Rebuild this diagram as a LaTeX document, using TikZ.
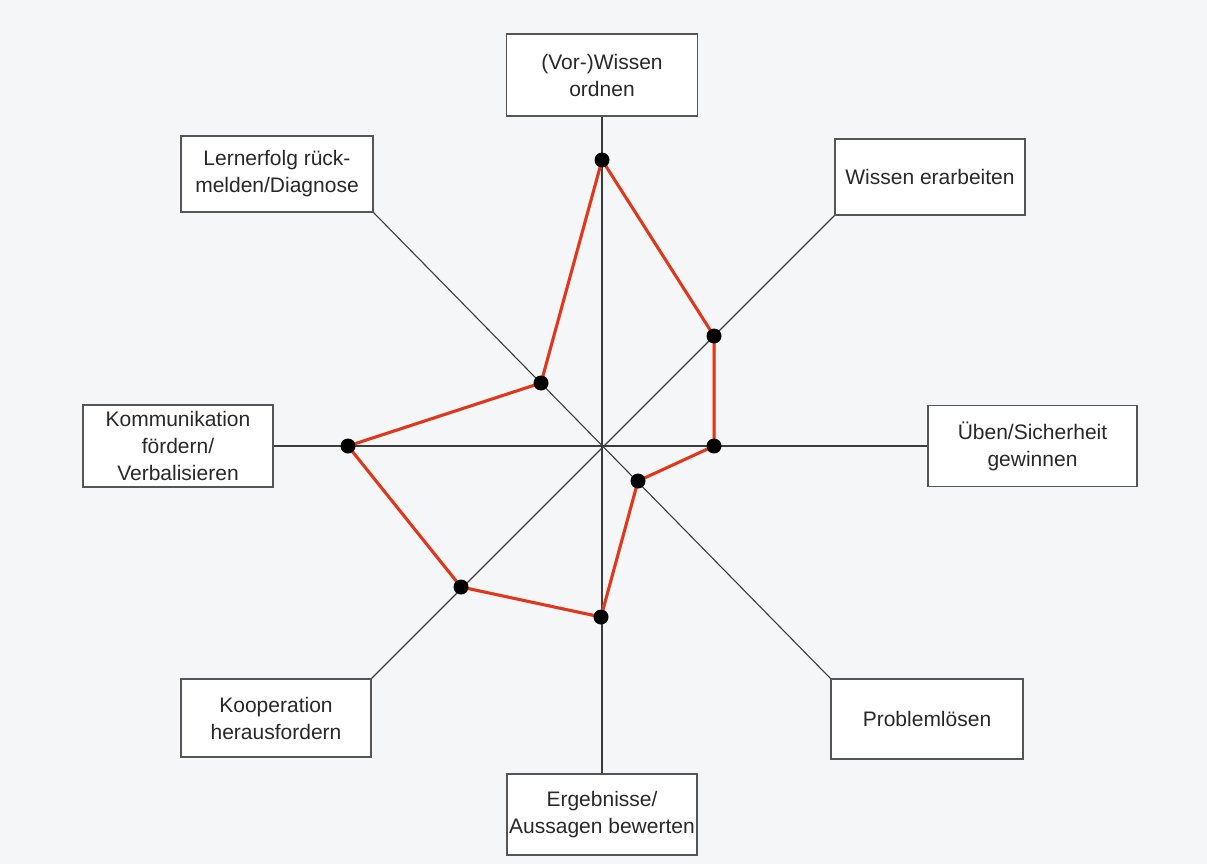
\documentclass[tikz,border=0pt]{standalone}
\usepackage{fontspec}
\setmainfont{Liberation Sans}
\definecolor{bg}{RGB}{245,246,248}
\definecolor{boxline}{RGB}{85,85,85}
\definecolor{axis}{RGB}{60,60,60}
\definecolor{txt}{RGB}{40,40,40}
\definecolor{poly}{RGB}{226,52,38}
\definecolor{polyy}{RGB}{250,225,60}
\begin{document}
\begin{tikzpicture}[x=1pt,y=-1pt,
  lbl/.style={draw=boxline, line width=1.3pt, fill=white, rectangle, align=center,
    font=\fontsize{21}{27}\selectfont, text=txt, inner sep=0pt},
  axisline/.style={draw=axis, line width=1.1pt},
  dot/.style={circle, fill=black, inner sep=0pt, minimum size=15pt}]
\useasboundingbox[fill=bg] (0,0) rectangle (1207,864);
% boxes
\node[lbl, minimum width=191pt, minimum height=82pt] (n)  at (602,75)     {(Vor-)Wissen\\ordnen};
\node[lbl, minimum width=190pt, minimum height=76pt] (ne) at (930,177)    {Wissen erarbeiten};
\node[lbl, minimum width=209pt, minimum height=81pt] (e)  at (1032.5,446) {Üben/Sicherheit\\gewinnen};
\node[lbl, minimum width=192pt, minimum height=80pt] (se) at (927,719)    {Problemlösen};
\node[lbl, minimum width=190pt, minimum height=81pt] (s)  at (602,814.5)  {Ergebnisse/\\Aussagen bewerten};
\node[lbl, minimum width=190pt, minimum height=78pt] (sw) at (276,718)    {Kooperation\\herausfordern};
\node[lbl, minimum width=190pt, minimum height=82pt] (w)  at (178,446)    {Kommunikation\\fördern/\\Verbalisieren};
\node[lbl, minimum width=192pt, minimum height=76pt] (nw) at (277,174)    {Lernerfolg rück-\\melden/Diagnose};
% axes
\draw[axisline] (n.south) -- (s.north);
\draw[axisline] (w.east) -- (e.west);
\draw[axisline] (nw.south east) -- (se.north west);
\draw[axisline] (ne.south west) -- (sw.north east);
% data points
\coordinate (p1) at (602,160);
\coordinate (p2) at (714,336);
\coordinate (p3) at (714,446);
\coordinate (p4) at (638,481);
\coordinate (p5) at (601,617);
\coordinate (p6) at (461,587);
\coordinate (p7) at (348,446);
\coordinate (p8) at (541,383);
\draw[polyy, line width=3pt, line join=round, xshift=1.8pt, yshift=-0.8pt]
  (p1) -- (p2) -- (p3) -- (p4) -- (p5) -- (p6) -- (p7) -- (p8) -- cycle;
\draw[poly, line width=3pt, line join=round]
  (p1) -- (p2) -- (p3) -- (p4) -- (p5) -- (p6) -- (p7) -- (p8) -- cycle;
\foreach \i in {1,...,8} { \node[dot] (d\i) at (p\i) {}; }
\end{tikzpicture}
\end{document}
